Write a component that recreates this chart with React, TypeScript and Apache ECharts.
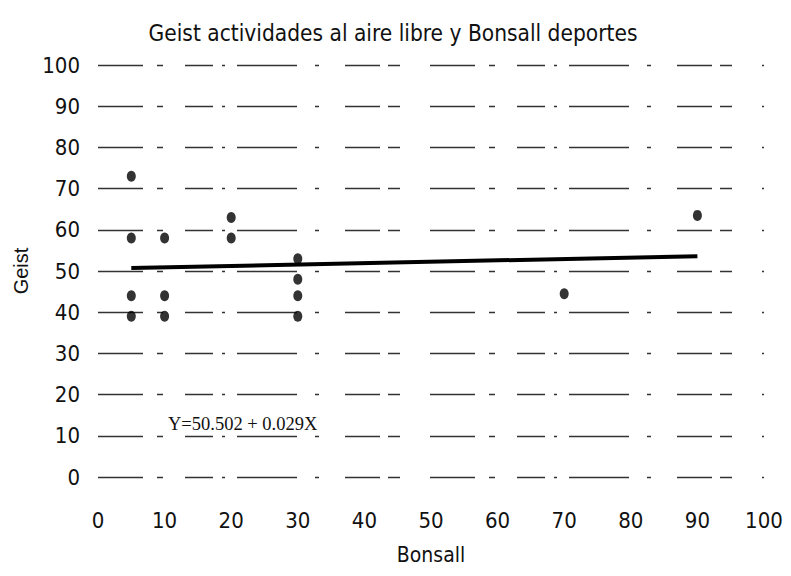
import React, { useEffect, useRef } from "react";
import * as echarts from "echarts";

const titleText = "Geist actividades al aire libre y Bonsall deportes";
const xName = "Bonsall";
const yName = "Geist";
const equation = "Y=50.502 + 0.029X";

const bonsall = [5, 5, 5, 5, 10, 10, 10, 20, 20, 30, 30, 30, 30, 70, 90];
const geist = [73, 58, 44, 39, 58, 44, 39, 63, 58, 53, 48, 44, 39, 44.5, 63.5];
const fitX = [5, 90];
const fitY = [50.7, 53.6];

const narrow = "'DejaVu Sans Condensed', 'Liberation Sans Narrow', 'Arial Narrow', sans-serif";

export default function App() {
  const ref = useRef<HTMLDivElement>(null);
  useEffect(() => {
    if (!ref.current) return;
    const chart = echarts.init(ref.current, undefined, { renderer: "svg" });
    chart.setOption({
      animation: false,
      backgroundColor: "#ffffff",
      title: {
        text: titleText,
        left: 380,
        textAlign: "center",
        top: 8,
        textStyle: { fontFamily: narrow, fontSize: 22.5, fontWeight: "normal", color: "#111" },
      },
      grid: { left: 90, right: 27, top: 57, bottom: 99, outerBoundsMode: "none" },
      xAxis: {
        type: "value",
        min: 0,
        max: 100,
        interval: 10,
        name: xName,
        nameLocation: "middle",
        nameGap: 67,
        nameTextStyle: { fontFamily: narrow, fontSize: 21, color: "#111" },
        axisLine: { show: false },
        axisTick: { show: false },
        splitLine: { show: false },
        axisLabel: { margin: 32, fontFamily: narrow, fontSize: 22, color: "#111" },
      },
      yAxis: {
        type: "value",
        min: 0,
        max: 100,
        interval: 10,
        name: yName,
        nameLocation: "middle",
        nameGap: 66,
        nameTextStyle: { fontFamily: "'Liberation Sans', Arial, sans-serif", fontSize: 20, color: "#111" },
        axisLine: { show: false },
        axisTick: { show: false },
        axisLabel: { margin: 18, fontFamily: narrow, fontSize: 22, color: "#111" },
        splitLine: {
          show: true,
          lineStyle: {
            color: "#333",
            width: 1.3,
            type: [45, 14, 6, 22, 28, 9, 3, 12, 60, 18, 4, 26, 35, 8, 12, 30],
          },
        },
      },
      graphic: [
        {
          type: "text",
          left: 160,
          top: 406,
          style: {
            text: equation,
            fontFamily: "'Liberation Serif', 'Times New Roman', serif",
            fontSize: 18.5,
            fill: "#111",
          },
        },
      ],
      series: [
        {
          type: "scatter",
          data: bonsall.map((x, i) => [x, geist[i]]),
          symbol: "circle",
          symbolSize: [9, 11],
          itemStyle: { color: "#000" },
          z: 3,
        },
        {
          type: "line",
          data: fitX.map((x, i) => [x, fitY[i]]),
          symbol: "none",
          lineStyle: { color: "#000", width: 4 },
          z: 2,
        },
      ],
    });
    return () => chart.dispose();
  }, []);
  return <div ref={ref} style={{ width: 783, height: 568 }} />;
}
